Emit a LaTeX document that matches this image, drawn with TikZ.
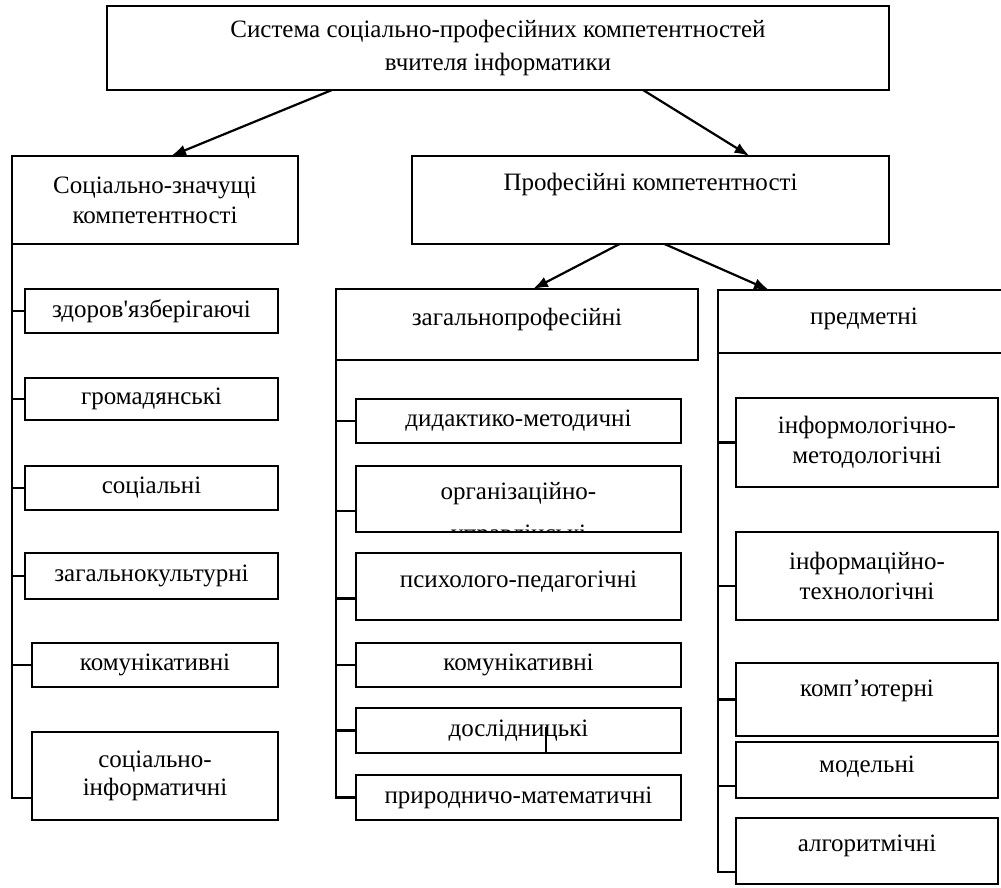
\documentclass[tikz,border=0pt]{standalone}
\usepackage{fontspec}
\setmainfont{Liberation Serif}[Ligatures=TeXOff]
\usetikzlibrary{arrows.meta}

\begin{document}
\begin{tikzpicture}[x=1pt, y=-1pt,
    box/.style={draw, line width=2.2pt, inner sep=0pt, outer sep=0pt, align=center,
        font=\fontsize{25}{30}\selectfont},
    arr/.style={line width=2.2pt, -{Latex[length=15pt, width=11pt]}},
    link/.style={line width=2.2pt}]
    \useasboundingbox (0,0) rectangle (1001,887);

    % top levels
    \node[box, minimum width=782, minimum height=84, font=\fontsize{25}{33}\selectfont] (sys) at (498,48) {Система соціально-професійних компетентностей\\вчителя інформатики};
    \node[box, minimum width=286, minimum height=88] (soc) at (155,200) {Соціально-значущі\\компетентності};
    \node[box, minimum width=477, minimum height=88] (prof) at (650.5,200) {\raisebox{36pt}{Професійні компетентності}};
    \node[box, minimum width=362, minimum height=71] (gen) at (517,324.5) {\raisebox{16pt}{загальнопрофесійні}};
    \node[box, minimum width=292, minimum height=63] (subj) at (864,321.5) {\raisebox{10pt}{предметні}};

    \draw[arr] ([xshift=-166pt]sys.south) -- ([xshift=16pt]soc.north);
    \draw[arr] ([xshift=145pt]sys.south) -- ([xshift=99pt]prof.north);
    \draw[arr] ([xshift=-31pt]prof.south) -- ([xshift=16pt]gen.north);
    \draw[arr] ([xshift=14pt]prof.south) -- ([xshift=51pt]subj.north west);

    % social column
    \node[box, minimum width=253, minimum height=44] (zd) at (151.5,311) {здоров'язберігаючі};
    \node[box, minimum width=253, minimum height=42] (gr) at (151.5,399) {громадянські};
    \node[box, minimum width=253, minimum height=44] (sc) at (151.5,488) {соціальні};
    \node[box, minimum width=253, minimum height=46] (zk) at (151.5,576) {загальнокультурні};
    \node[box, minimum width=246, minimum height=44] (km) at (155,665) {комунікативні};
    \node[box, minimum width=246, minimum height=88, font=\fontsize{25}{28}\selectfont] (si) at (155,776) {соціально-\\інформатичні};

    \draw[link] (soc.south west) |- (zd.west);
    \draw[link] (soc.south west) |- (gr.west);
    \draw[link] (soc.south west) |- (sc.west);
    \draw[link] (soc.south west) |- (zk.west);
    \draw[link] (soc.south west) |- (km.west);
    \draw[link] (soc.south west) |- ([yshift=-22pt]si.west);

    % general professional column
    \node[box, minimum width=325, minimum height=44] (dm) at (518.5,421) {дидактико-методичні};
    \node[box, minimum width=325, minimum height=66] (org) at (518.5,499) {};
    \begin{scope}
        \clip ([yshift=-2pt]org.north west) rectangle ([yshift=2pt]org.south east);
        \node[box, draw=none, font=\fontsize{25}{42}\selectfont] (orgt) at (518.5,515) {організаційно-\\управлінські};
    \end{scope}
    \node[box, minimum width=325, minimum height=67] (ps) at (518.5,586.5) {\raisebox{14pt}{психолого-педагогічні}};
    \node[box, minimum width=325, minimum height=44] (km2) at (518.5,665) {комунікативні};
    \node[box, minimum width=325, minimum height=45] (ds) at (518.5,730.5) {дослідницькі};
    \node[box, minimum width=325, minimum height=45] (pm) at (518.5,797.5) {природничо-математичні};
    \draw[link] (546,727) -- (546,753);

    \draw[link] (gen.south west) |- (dm.west);
    \draw[link] (gen.south west) |- ([yshift=-12pt]org.west);
    \draw[link] (gen.south west) |- ([yshift=-12pt]ps.west);
    \draw[link] (gen.south west) |- (km2.west);
    \draw[link] (gen.south west) |- (ds.west);
    \draw[link] (gen.south west) |- (pm.west);

    % subject column
    \node[box, minimum width=262, minimum height=89] (im) at (867,442.5) {інформологічно-\\методологічні};
    \node[box, minimum width=262, minimum height=88] (it) at (867,576) {інформаційно-\\технологічні};
    \node[box, minimum width=262, minimum height=73] (kp) at (867,699.5) {\raisebox{22pt}{комп’ютерні}};
    \node[box, minimum width=262, minimum height=56] (md) at (867,770) {\raisebox{12pt}{модельні}};
    \node[box, minimum width=262, minimum height=66] (al) at (867,851) {\raisebox{16pt}{алгоритмічні}};

    \draw[link] (subj.south west) |- (im.west);
    \draw[link] (subj.south west) |- ([yshift=-10pt]it.west);
    \draw[link] (subj.south west) |- (kp.west);
    \draw[link] (subj.south west) |- ([yshift=-16pt]md.west);
    \draw[link] (subj.south west) |- ([yshift=-21pt]al.west);
\end{tikzpicture}
\end{document}
